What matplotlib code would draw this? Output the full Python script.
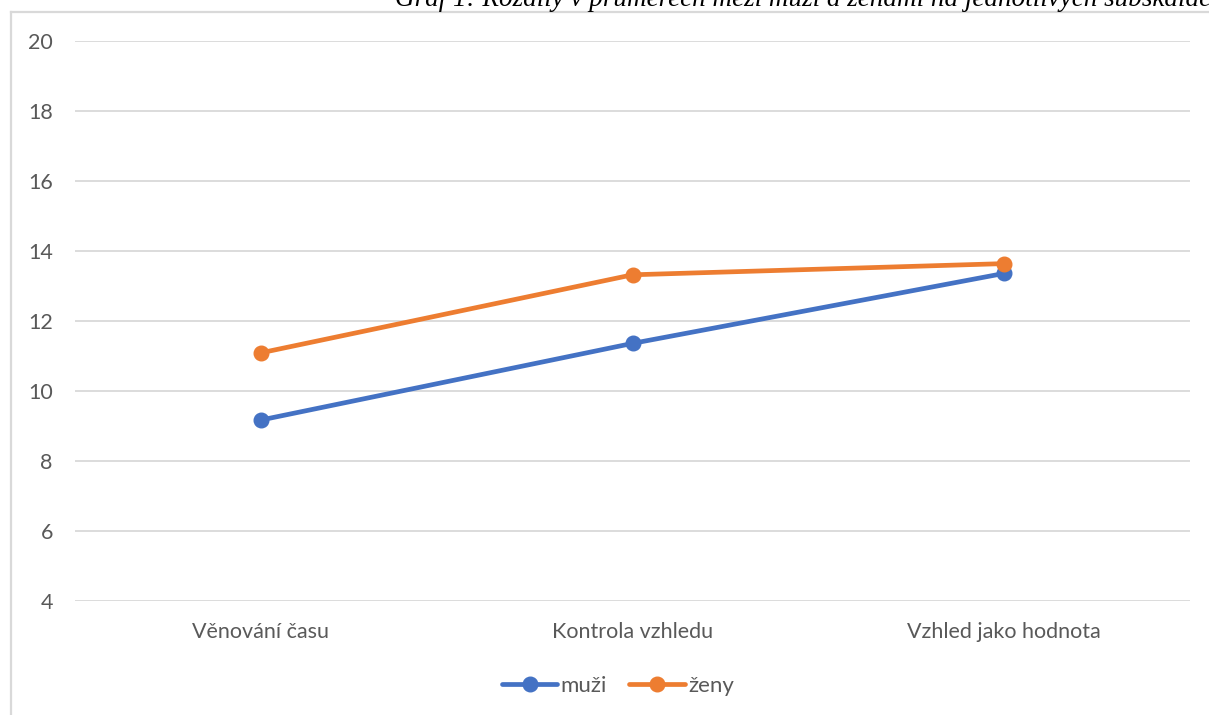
import matplotlib
matplotlib.use("Agg")
import matplotlib.pyplot as plt
from matplotlib.lines import Line2D

# data
categories = ["Věnování času", "Kontrola vzhledu", "Vzhled jako hodnota"]
muzi = [9.17, 11.36, 13.36]
zeny = [11.09, 13.32, 13.64]
series_names = ["muži", "ženy"]
y_ticks = [4, 6, 8, 10, 12, 14, 16, 18, 20]
title_text = "Graf 1: Rozdíly v průměrech mezi muži a ženami na jednotlivých subškálách"

BLUE = "#4472C4"
ORANGE = "#ED7D31"
GRID = "#D9D9D9"
TXT = "#595959"

W, H = 1209, 715
plt.rcParams["font.family"] = ["Lato", "DejaVu Sans"]

fig = plt.figure(figsize=(W / 100, H / 100), dpi=100, facecolor="white")

# chart frame (only top and left edges are visible in the crop)
fig.add_artist(Line2D([11 / W, 1.0], [1 - 11.5 / H, 1 - 11.5 / H],
                      transform=fig.transFigure, color=GRID, lw=1.6))
fig.add_artist(Line2D([11 / W, 11 / W], [0.0, 1 - 11.5 / H],
                      transform=fig.transFigure, color=GRID, lw=1.6))

# caption above the chart, cut off by the top edge
fig.text(395 / W, 1 - 6 / H, title_text, ha="left", va="baseline",
         fontsize=19.5, fontstyle="italic", family=["Liberation Serif", "DejaVu Serif"],
         color="black")

ax = fig.add_axes([75 / W, (H - 601) / H, (1190 - 75) / W, (601 - 41) / H])
x = list(range(len(categories)))
ax.plot(x, muzi, color=BLUE, lw=3.4, marker="o", ms=10.5, label=series_names[0],
        solid_capstyle="round", zorder=3)
ax.plot(x, zeny, color=ORANGE, lw=3.4, marker="o", ms=10.5, label=series_names[1],
        solid_capstyle="round", zorder=3)

ax.set_xlim(-0.5, len(categories) - 0.5)
ax.set_ylim(4, 20)
ax.set_yticks(y_ticks)
ax.set_xticks(x)
ax.set_xticklabels(categories)
ax.grid(axis="y", color=GRID, lw=1.3)
ax.set_axisbelow(True)
for s in ax.spines.values():
    s.set_visible(False)
ax.tick_params(axis="both", length=0, colors=TXT, labelsize=15.5)
ax.tick_params(axis="y", pad=16)
ax.tick_params(axis="x", pad=15)

fig.legend(loc="center", bbox_to_anchor=(618 / W, 1 - 686 / H), ncol=2,
           frameon=False, fontsize=16, labelcolor=TXT, handlelength=2.5,
           handletextpad=0.15, columnspacing=1.0)

fig.savefig("out.png", dpi=100, facecolor="white")
